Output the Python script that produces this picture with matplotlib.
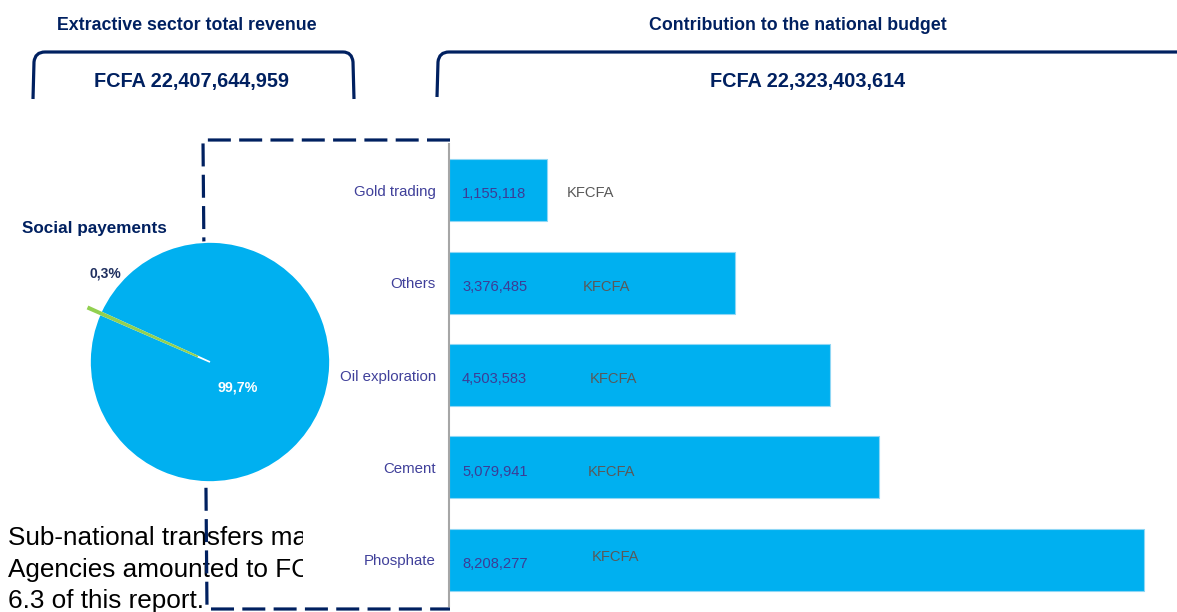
import matplotlib
matplotlib.use('Agg')
import matplotlib.pyplot as plt
from matplotlib.path import Path
from matplotlib.patches import PathPatch
from matplotlib.lines import Line2D
from matplotlib.transforms import Affine2D, Bbox, TransformedBbox

# ---------------- data ----------------
categories = ['Phosphate', 'Cement', 'Oil exploration', 'Others', 'Gold trading']
values = [8208277, 5079941, 4503583, 3376485, 1155118]
value_labels = ['8,208,277', '5,079,941', '4,503,583', '3,376,485', '1,155,118']
unit_label = 'KFCFA'
pie_values = [99.7, 0.3]
pie_labels = ['99,7%', '0,3%']
left_title = 'Extractive sector total revenue'
right_title = 'Contribution to the national budget'
left_total = 'FCFA 22,407,644,959'
right_total = 'FCFA 22,323,403,614'
pie_title = 'Social payements'
body_lines = ['Sub-national transfers ma', 'Agencies amounted to FC', '6.3 of this report.']

# ---------------- style ----------------
W, H = 1177, 612
NAVY = '#002060'
BLUE = '#00b0f0'
GREEN = '#92d050'
LABEL = '#40409a'
SANS = ['Liberation Sans', 'DejaVu Sans']

fig = plt.figure(figsize=(W / 100, H / 100), dpi=100)
fig.patch.set_facecolor('white')
PX = Affine2D().scale(1 / W, -1 / H).translate(0, 1) + fig.transFigure


def fx(x):
    return x / W


def fy(y):
    return 1 - y / H


# ---------------- headers ----------------
fig.text(fx(187), fy(25), left_title, ha='center', va='center', fontsize=12.8,
         fontweight='bold', color=NAVY, family=SANS)
fig.text(fx(798), fy(25), right_title, ha='center', va='center', fontsize=12.8,
         fontweight='bold', color=NAVY, family=SANS)
fig.text(fx(192), fy(81), left_total, ha='center', va='center', fontsize=14.3,
         fontweight='bold', color=NAVY, family=SANS)
fig.text(fx(808), fy(81), right_total, ha='center', va='center', fontsize=14.3,
         fontweight='bold', color=NAVY, family=SANS)

# brackets
lb = Path([(33, 99), (34, 62), (35, 52), (45, 52), (343, 52), (352, 52), (353, 62), (354, 99)],
          [Path.MOVETO, Path.LINETO, Path.CURVE3, Path.CURVE3, Path.LINETO, Path.CURVE3,
           Path.CURVE3, Path.LINETO])
rb = Path([(437, 97), (438, 62), (439, 52), (449, 52), (1180, 52)],
          [Path.MOVETO, Path.LINETO, Path.CURVE3, Path.CURVE3, Path.LINETO])
for p in (lb, rb):
    fig.add_artist(PathPatch(p, transform=PX, facecolor='none', edgecolor=NAVY, lw=2.3))

# ---------------- body text (clipped) ----------------
clip = TransformedBbox(Bbox([[0, 0], [303 / W, 1]]), fig.transFigure)
for yb, line in zip([545, 577, 608], body_lines):
    t = fig.text(fx(8), fy(yb), line, ha='left', va='baseline', fontsize=18.8,
                 color='black', family=SANS, zorder=1)
    t.set_clip_box(clip)
    t.set_clip_on(True)

# dashed frame
dash = Line2D([450, 203, 207, 450], [140, 140, 609, 609], transform=PX, color=NAVY,
              lw=2.3, dashes=(7.2, 2.6), zorder=2)
fig.add_artist(dash)

fig.text(fx(22), fy(228), pie_title, ha='left', va='center', fontsize=12.3,
         fontweight='bold', color=NAVY, family=SANS)

# ---------------- pie ----------------
R = 120
half = 156
pax = fig.add_axes([fx(210 - half), fy(362 + half), 2 * half / W, 2 * half / H], zorder=5)
pax.patch.set_alpha(0)
green_center = 156.0
start = green_center - (pie_values[0] + pie_values[1] / 2) / 100 * 360 + 360
wedges, _ = pax.pie(pie_values, colors=[BLUE, GREEN], startangle=start, explode=[0, 0.11],
                    wedgeprops=dict(edgecolor='white', linewidth=1.2))
wedges[1].set_linewidth(1.3)
wedges[1].set_edgecolor(GREEN)
pax.set_xlim(-half / R, half / R)
pax.set_ylim(-half / R, half / R)
pax.set_aspect('equal')
pax.axis('off')
pax.text(0.23, -0.21, pie_labels[0], ha='center', va='center', fontsize=10.3,
         fontweight='bold', color='white', family=SANS)
pax.text(-0.87, 0.74, pie_labels[1], ha='center', va='center', fontsize=10,
         fontweight='bold', color='#1f2f5f', family=SANS)

# ---------------- bars ----------------
bax = fig.add_axes([fx(449), fy(606), 728 / W, 462 / H])
ypos = list(range(len(categories)))
bax.barh(ypos, values, height=0.67, color=BLUE, edgecolor='#8fd7f5', linewidth=0.8)
bax.set_xlim(0, 8.598e6)
bax.set_ylim(-0.5, 4.5)
bax.set_yticks(ypos, categories)
bax.tick_params(axis='y', length=0, pad=9.4, labelsize=10.8, labelcolor=LABEL)
for lab in bax.get_yticklabels():
    lab.set_family(SANS)
bax.set_xticks([])
for s in ('top', 'right', 'bottom'):
    bax.spines[s].set_visible(False)
bax.spines['left'].set_color('#a6a6a6')
bax.spines['left'].set_linewidth(1.5)
bax.patch.set_alpha(0)

unit_dx = [103, 100, 101, 96.5, 85]
unit_dy = [2, -3, -3, -3, -2]
for i, lab in enumerate(value_labels):
    bax.annotate(lab, xy=(0, ypos[i]), xytext=(9.4, -3), textcoords='offset points',
                 ha='left', va='center', fontsize=10.6, color='#3c3c96', family=SANS)
    bax.annotate(unit_label, xy=(0, ypos[i]), xytext=(unit_dx[i], unit_dy[i]),
                 textcoords='offset points', ha='left', va='center', fontsize=10.6,
                 color='#595959', family=SANS)

fig.savefig('out.png', dpi=100, facecolor='white')
